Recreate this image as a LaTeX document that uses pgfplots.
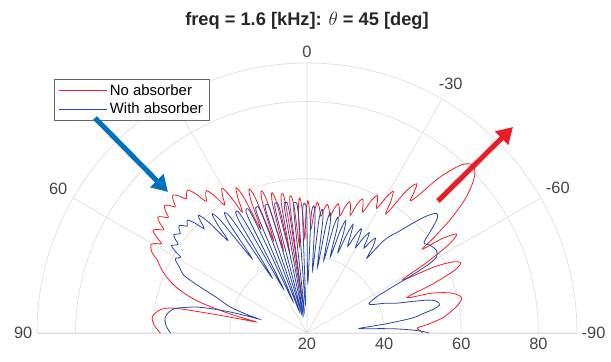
\documentclass[border=0pt]{standalone}
\usepackage{pgfplots}
\pgfplotsset{compat=1.18}
\usepackage{pgfplotstable}
\usepgfplotslibrary{polar}
\usetikzlibrary{arrows.meta}
\usepackage{fontspec}
\setmainfont{Liberation Sans}
\definecolor{cred}{RGB}{240,30,40}
\definecolor{cblue}{RGB}{40,70,170}
\definecolor{arrblue}{RGB}{0,114,189}
\definecolor{arrred}{RGB}{237,28,36}
\definecolor{gridc}{RGB}{222,222,222}
\definecolor{labc}{RGB}{70,70,70}

% No absorber: theta [deg], level [dB]
\pgfplotstableread{
th r
90 58.0
87 59.7
84 60.3
81 58.5
79.4 55.0
78.7 46.0
78.2 38.5
77.7 33.5
77.0 36.0
76.2 40.0
75.2 44.0
74.2 48.0
73.0 51.5
71.5 54.5
70.0 57.0
68.0 59.5
66.0 61.5
64.0 63.2
62.5 65.3
60.5 66.5
59.45 65.6
58.4 64.3
57.35 66.5
56.3 68.0
55.25 67.1
54.2 65.8
53.2 67.7
52.2 69.0
51.2 68.1
50.2 66.8
49.2 68.5
48.2 69.6
47.2 68.7
46.2 67.3
45.2 68.9
44.2 69.9
43.1 68.7
42.0 66.8
40.9 67.7
39.8 68.3
38.65 66.2
37.5 63.0
36.35 64.3
35.2 65.2
34.0 62.9
32.8 59.5
31.55 61.9
30.3 63.5
29.25 60.5
28.2 55.5
27.1 59.3
26.0 61.9
25.0 58.9
24.0 49.5
22.95 57.2
21.9 60.2
20.9 57.2
19.9 45.5
18.85 55.7
17.8 58.7
16.85 55.7
15.9 42.5
14.95 54.5
14.0 57.5
13.1 54.5
12.2 41.5
11.25 53.7
10.3 56.7
9.4 53.7
8.5 29.5
7.6 52.8
6.7 55.8
5.8 52.8
4.9 42.5
4.0 52.1
3.1 55.1
2.2 52.1
1.35 44.5
0.5 51.3
-0.4 54.3
-1.3 51.3
-2.2 47.0
-3.35 51.2
-4.5 54.0
-5.65 52.6
-6.8 50.5
-7.9 52.5
-9.0 53.8
-10.1 52.6
-11.2 50.8
-12.35 53.0
-13.5 54.5
-14.6 53.3
-15.7 51.5
-16.85 54.3
-18.0 55.8
-19.1 54.5
-20.2 52.5
-21.35 56.1
-22.5 57.6
-23.65 56.2
-24.8 54.5
-25.9 58.2
-27.0 60.0
-28.1 58.8
-29.2 57.0
-30.25 60.6
-31.3 63.0
-32.45 60.6
-33.6 57.0
-34.95 65.0
-36.3 68.0
-37.2 66.0
-38.0 63.5
-39.0 66.0
-40.4 72.9
-42.3 78.6
-43.8 80.8
-45.2 81.0
-46.5 80.0
-47.8 78.0
-49.0 75.5
-50.2 72.4
-51.6 67.5
-53.0 61.5
-54.0 57.0
-55.0 62.5
-56.5 66.5
-58.0 63.5
-59.5 56.0
-61.0 48.3
-62.5 57.0
-64.0 62.0
-65.5 63.8
-67.0 61.5
-68.7 55.0
-70.5 47.5
-72.3 54.0
-74.5 58.8
-77.0 61.1
-79.5 59.8
-82.0 57.2
-83.7 55.3
-85.6 52.0
-87.4 48.7
-88.7 49.4
-90.0 49.9
}\redtab

% With absorber: theta [deg], level [dB]
\pgfplotstableread{
th r
90 55.4
87 56.6
84 57.0
81.5 56.3
79.5 54.8
78.0 52.0
76.7 49.2
75.6 45.0
74.7 40.6
74.2 36.5
73.8 33.0
73.0 36.0
71.3 41.0
68.7 44.9
66.4 51.0
64.9 55.3
62.9 57.0
60.8 59.2
59.9 58.8
59.0 58.2
58.1 60.4
57.2 61.8
56.3 61.1
55.4 60.6
54.5 62.0
53.6 62.9
52.7 62.3
51.8 61.8
50.9 62.7
50.0 63.3
49.15 62.6
48.3 61.6
47.45 62.2
46.6 62.6
45.6 60.8
44.6 58.0
43.6 60.1
42.6 61.5
41.6 58.5
40.55 51.5
39.5 56.5
38.5 59.5
37.5 56.5
36.45 44.0
35.4 54.8
34.4 57.8
33.35 54.8
32.3 37.0
31.25 53.6
30.2 56.6
29.15 53.6
28.1 33.0
27.05 52.8
26.0 55.8
24.95 52.8
23.9 29.0
22.85 52.2
21.8 55.2
20.75 52.2
19.7 26.0
18.65 51.9
17.6 54.9
16.55 51.9
15.5 25.0
14.45 51.6
13.4 54.6
12.35 51.6
11.35 25.0
10.3 51.3
9.3 54.3
8.3 51.3
7.25 25.5
6.2 51.0
5.2 54.0
4.15 51.0
3.15 27.5
2.1 50.6
1.1 53.6
0.1 50.6
-0.95 33.0
-2.0 50.0
-3.0 53.0
-4.0 50.0
-5.0 36.3
-6.0 49.3
-7.0 52.3
-8.0 49.3
-9.0 37.2
-10.0 48.7
-11.0 51.7
-12.0 48.7
-13.0 39.3
-14.0 48.2
-15.0 51.2
-16.0 48.2
-17.0 40.6
-18.0 47.9
-19.0 50.9
-20.0 47.9
-21.0 42.3
-22.0 47.6
-23.0 50.6
-24.1 47.6
-25.2 44.8
-26.35 48.3
-27.5 50.5
-28.55 48.5
-29.6 45.5
-30.7 48.6
-31.8 50.6
-32.8 48.7
-33.8 46.5
-34.8 48.8
-35.8 50.3
-37.2 48.5
-38.3 45.5
-38.7 44.8
-39.2 48.0
-40.0 52.0
-42.0 55.3
-44.5 60.9
-46.0 64.0
-47.3 65.7
-48.5 65.2
-49.5 63.5
-51.0 60.5
-52.4 58.3
-54.5 59.2
-57.5 59.8
-59.5 59.0
-60.5 56.5
-61.2 51.0
-61.7 45.0
-62.5 40.5
-64.5 37.8
-66.5 38.5
-69.0 41.5
-71.6 44.5
-73.5 49.0
-75.0 53.0
-76.5 54.8
-78.1 55.1
-79.3 53.5
-80.5 50.5
-81.9 47.6
-83.3 41.0
-84.6 34.5
-85.3 33.5
-86.2 37.0
-87.2 42.5
-88.3 47.0
-89.2 50.0
-90.0 51.7
}\bluetab

\begin{document}
\begin{tikzpicture}
\begin{polaraxis}[
  scale only axis, width=405pt, height=405pt,
  xmin=0, xmax=180, ymin=0, ymax=70,
  xtick={0,30,...,180},
  xticklabels={-90,-60,-30,0,{},60,90},
  ytick={0,20,40,60},
  yticklabels={20,40,60,80},
  grid=major,
  major grid style={gridc, line width=0.5pt},
  axis line style={gridc, line width=0.5pt},
  major tick length=0pt,
  tick label style={font=\fontsize{12.3}{14}\selectfont, text=labc},
  xticklabel style={yshift=0.3pt},
  yticklabel style={anchor=north},
  title={\bfseries freq = 1.6 [kHz]: $\theta$ = 45 [deg]},
  title style={at={(axis cs:90,76.9)}, anchor=base, yshift=-6pt, font=\fontsize{13.7}{16}\selectfont, text=black!85},
  legend style={at={(axis cs:134.9,92.9)}, anchor=north west,
    draw=black!60, line width=0.5pt, fill=white,
    font=\fontsize{11.2}{13}\selectfont, row sep=0.5pt,
    inner xsep=3pt, inner ysep=1.5pt},
  legend image code/.code={\draw[#1] (0pt,0pt) -- (36pt,0pt);},
  legend cell align=left,
]
\addplot[cred, line width=0.6pt, smooth, tension=0.5] table[x expr=\thisrow{th}+90, y expr=\thisrow{r}-20] {\redtab};
\addlegendentry{No absorber}
\addplot[cblue, line width=0.6pt, smooth, tension=0.5] table[x expr=\thisrow{th}+90, y expr=\thisrow{r}-20] {\bluetab};
\addlegendentry{With absorber}
\coordinate (C) at (axis cs:0,0);
\end{polaraxis}
\begin{scope}[shift={(C)}]
\path (-230.25pt,-21pt) rectangle (228pt,249.75pt);
\draw[arrblue, line width=3.75pt, -{Triangle[width=13.5pt,length=12pt]}] (-159pt,161.25pt) -- (-104.25pt,105.75pt);
\draw[arrred, line width=3.75pt, -{Triangle[width=13.5pt,length=12pt]}] (98.25pt,99pt) -- (154.5pt,154.5pt);
\end{scope}
\end{tikzpicture}
\end{document}
